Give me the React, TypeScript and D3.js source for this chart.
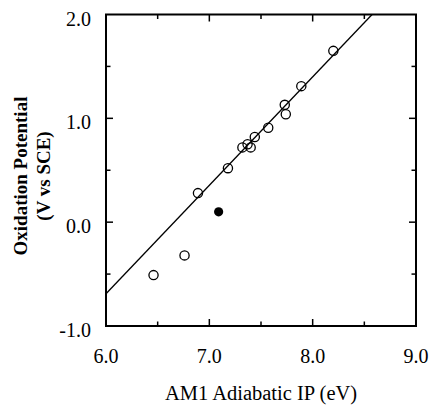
import React from "react";
import * as d3 from "d3";

const openIP = [6.46, 6.76, 6.89, 7.18, 7.32, 7.37, 7.40, 7.44, 7.57, 7.73, 7.74, 7.89, 8.20];
const openEox = [-0.51, -0.32, 0.28, 0.52, 0.72, 0.75, 0.72, 0.82, 0.91, 1.13, 1.04, 1.31, 1.65];
const filledIP = [7.09];
const filledEox = [0.10];
const fitIP = [6.0, 8.575];
const fitEox = [-0.69, 2.0];
const xTickLabels = ["6.0", "7.0", "8.0", "9.0"];
const yTickLabels = ["-1.0", "0.0", "1.0", "2.0"];

const W = 432;
const H = 405;
const L = 106, R = 416, T = 14.5, B = 326;
const serif = "Liberation Serif";

export default function App() {
  const x = d3.scaleLinear().domain([6, 9]).range([L, R]);
  const y = d3.scaleLinear().domain([-1, 2]).range([B, T]);
  const minorX = d3.range(6.5, 9, 1);
  const majorX = [7, 8];
  const minorY = d3.range(-0.5, 2, 1);
  const majorY = [0, 1];
  const line = d3.line<number>().x((_, i) => x(fitIP[i])).y((d) => y(d));
  const majLen = 7, minLen = 4.5;
  const ts = { fontFamily: serif };
  return (
    <svg width={W} height={H} style={{ position: "absolute", left: 0, top: 0, background: "#fff", fontFamily: serif }}>
      <defs>
        <clipPath id="plot">
          <rect x={L} y={T} width={R - L} height={B - T} />
        </clipPath>
      </defs>
      <path d={line(fitEox) || ""} stroke="#000" strokeWidth={1.3} fill="none" clipPath="url(#plot)" />
      {openIP.map((v, i) => (
        <circle key={"o" + i} cx={x(v)} cy={y(openEox[i])} r={4.6} fill="none" stroke="#000" strokeWidth={1.3} />
      ))}
      {filledIP.map((v, i) => (
        <circle key={"f" + i} cx={x(v)} cy={y(filledEox[i])} r={4.6} fill="#000" />
      ))}
      <rect x={L} y={T} width={R - L} height={B - T} fill="none" stroke="#000" strokeWidth={2} />
      {majorX.map((v) => (
        <g key={"mx" + v}>
          <line x1={x(v)} x2={x(v)} y1={B} y2={B - majLen} stroke="#000" strokeWidth={1.5} />
          <line x1={x(v)} x2={x(v)} y1={T} y2={T + majLen} stroke="#000" strokeWidth={1.5} />
        </g>
      ))}
      {minorX.map((v) => (
        <g key={"nx" + v}>
          <line x1={x(v)} x2={x(v)} y1={B} y2={B - minLen} stroke="#000" strokeWidth={1.5} />
          <line x1={x(v)} x2={x(v)} y1={T} y2={T + minLen} stroke="#000" strokeWidth={1.5} />
        </g>
      ))}
      {majorY.map((v) => (
        <g key={"my" + v}>
          <line x1={L} x2={L + majLen} y1={y(v)} y2={y(v)} stroke="#000" strokeWidth={1.5} />
          <line x1={R} x2={R - majLen} y1={y(v)} y2={y(v)} stroke="#000" strokeWidth={1.5} />
        </g>
      ))}
      {minorY.map((v) => (
        <g key={"ny" + v}>
          <line x1={L} x2={L + minLen} y1={y(v)} y2={y(v)} stroke="#000" strokeWidth={1.5} />
          <line x1={R} x2={R - minLen} y1={y(v)} y2={y(v)} stroke="#000" strokeWidth={1.5} />
        </g>
      ))}
      {xTickLabels.map((t) => (
        <text key={"xt" + t} x={x(+t)} y={363} textAnchor="middle" style={ts} fontSize={20} fill="#000">
          {t}
        </text>
      ))}
      {yTickLabels.map((t) => (
        <text key={"yt" + t} x={91} y={y(+t) + 11} textAnchor="end" style={ts} fontSize={20} fill="#000">
          {t}
        </text>
      ))}
      <text x={(L + R) / 2} y={400} textAnchor="middle" style={ts} fontSize={20.5} fill="#000">
        AM1 Adiabatic IP (eV)
      </text>
      <text transform={`translate(27,176) rotate(-90)`} textAnchor="middle" style={ts} fontSize={19} fontWeight="bold" fill="#000">
        Oxidation Potential
      </text>
      <text transform={`translate(50,176) rotate(-90)`} textAnchor="middle" style={ts} fontSize={19} fontWeight="bold" fill="#000">
        (V vs SCE)
      </text>
    </svg>
  );
}
